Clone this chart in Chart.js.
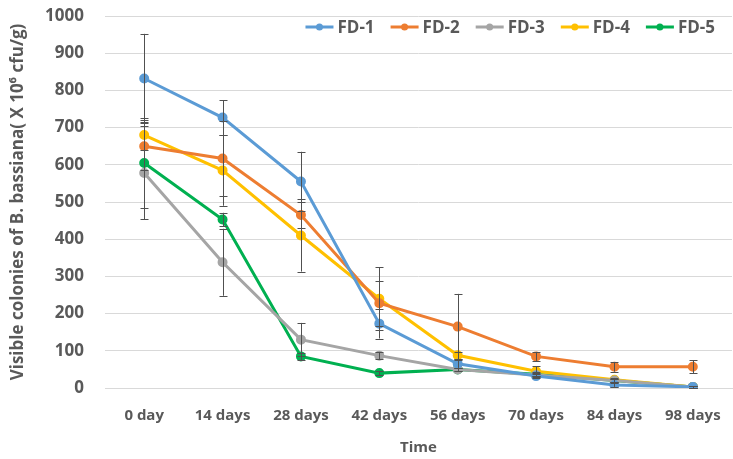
<!DOCTYPE html>
<html>
<head>
<meta charset="utf-8">
<script src="https://cdn.jsdelivr.net/npm/chart.js@4.4.0/dist/chart.umd.min.js"></script>
<style>
  html, body { margin: 0; padding: 0; background: #fff; }
  #wrap { width: 733px; height: 459px; }
</style>
</head>
<body>
<div id="wrap"><canvas id="chart"></canvas></div>
<script>
const days = ["0 day", "14 days", "28 days", "42 days", "56 days", "70 days", "84 days", "98 days"];
const yTicks = [0, 100, 200, 300, 400, 500, 600, 700, 800, 900, 1000];

const fd1 = [832, 727, 555, 173, 65, 32, 8, 3];
const fd2 = [650, 617, 465, 228, 165, 85, 57, 57];
const fd3 = [578, 338, 130, 87, 50, 35, 20, 3];
const fd4 = [680, 585, 410, 240, 88, 45, 22, 3];
const fd5 = [605, 453, 85, 40, 50, 37, 20, 3];

// standard deviations, same order as the means above
const fd1Err = [120, 47, 80, 40, 10, 5, 5, 2];
const fd2Err = [65, 100, 35, 60, 88, 12, 13, 17];
const fd3Err = [125, 90, 45, 10, 5, 5, 5, 2];
const fd4Err = [40, 95, 97, 85, 10, 14, 5, 2];
const fd5Err = [120, 18, 10, 5, 5, 5, 5, 2];

const seriesNames = ["FD-1", "FD-2", "FD-3", "FD-4", "FD-5"];
const seriesValues = [fd1, fd2, fd3, fd4, fd5];
const seriesErrors = [fd1Err, fd2Err, fd3Err, fd4Err, fd5Err];
const colors = ["#5B9BD5", "#ED7D31", "#A5A5A5", "#FFC000", "#00B050"];

const textColor = "#595959";
const fontFamily = "'Open Sans', 'DejaVu Sans', sans-serif";

// vertical error bars with caps
const errorBars = {
    id: "errorBars",
    afterDatasetsDraw(chart) {
        const ctx = chart.ctx;
        const y = chart.scales.y;
        ctx.save();
        ctx.strokeStyle = "#505050";
        ctx.lineWidth = 1;
        chart.data.datasets.forEach((ds, i) => {
            const meta = chart.getDatasetMeta(i);
            meta.data.forEach((pt, j) => {
                const err = ds.errors[j];
                if (!err) return;
                const top = y.getPixelForValue(ds.data[j] + err);
                const bot = y.getPixelForValue(Math.max(0, ds.data[j] - err));
                const x = Math.round(pt.x) + 0.5;
                ctx.beginPath();
                ctx.moveTo(x, top);
                ctx.lineTo(x, bot);
                ctx.moveTo(x - 4, Math.round(top) + 0.5);
                ctx.lineTo(x + 4, Math.round(top) + 0.5);
                ctx.moveTo(x - 4, Math.round(bot) + 0.5);
                ctx.lineTo(x + 4, Math.round(bot) + 0.5);
                ctx.stroke();
            });
        });
        ctx.restore();
    }
};

// one-row legend sitting inside the top right of the plot
const insideLegend = {
    id: "insideLegend",
    afterDraw(chart) {
        const ctx = chart.ctx;
        const area = chart.chartArea;
        const swatch = 28, gap = 4, spacing = 16;
        ctx.save();
        ctx.font = "bold 17px " + fontFamily;
        ctx.textBaseline = "middle";
        const widths = chart.data.datasets.map(ds => swatch + gap + ctx.measureText(ds.label).width);
        const total = widths.reduce((a, b) => a + b, 0) + spacing * (widths.length - 1);
        let x = area.right - 17 - total;
        const cy = area.top + 11;
        chart.data.datasets.forEach((ds, i) => {
            ctx.strokeStyle = ds.borderColor;
            ctx.lineWidth = 3;
            ctx.beginPath();
            ctx.moveTo(x, cy);
            ctx.lineTo(x + swatch, cy);
            ctx.stroke();
            ctx.fillStyle = ds.borderColor;
            ctx.beginPath();
            ctx.arc(x + swatch / 2, cy, 3.5, 0, Math.PI * 2);
            ctx.fill();
            ctx.fillStyle = textColor;
            ctx.fillText(ds.label, x + swatch + gap, cy + 1);
            x += widths[i] + spacing;
        });
        ctx.restore();
    }
};

const datasets = seriesNames.map((name, i) => ({
    label: name,
    data: seriesValues[i],
    errors: seriesErrors[i],
    borderColor: colors[i],
    backgroundColor: colors[i],
    borderWidth: 3,
    pointRadius: 3.5,
    pointHoverRadius: 3.5,
    tension: 0
}));

new Chart(document.getElementById("chart"), {
    type: "line",
    data: { labels: days, datasets: datasets },
    plugins: [errorBars, insideLegend],
    options: {
        responsive: true,
        maintainAspectRatio: false,
        animation: false,
        layout: { autoPadding: false, padding: { top: 16, right: 1, left: 0, bottom: 0 } },
        plugins: {
            legend: { display: false },
            tooltip: { enabled: false }
        },
        scales: {
            x: {
                offset: true,
                grid: { display: false, drawTicks: false },
                border: { color: "#D9D9D9" },
                afterFit(scale) {
                    scale.height = 71;
                    scale.paddingLeft = 0;
                    scale.paddingRight = 0;
                },
                ticks: {
                    color: textColor,
                    padding: 19,
                    maxRotation: 0,
                    autoSkip: false,
                    font: { family: fontFamily, size: 15, weight: "bold" }
                },
                title: {
                    display: true,
                    text: "Time",
                    color: textColor,
                    padding: { top: 6, bottom: 2 },
                    font: { family: fontFamily, size: 15, weight: "bold" }
                }
            },
            y: {
                min: 0,
                max: 1000,
                afterBuildTicks(scale) {
                    scale.ticks = yTicks.map(v => ({ value: v }));
                },
                afterFit(scale) {
                    scale.width = 105;
                    // keep the wide label gap from pushing the plot down
                    scale.paddingTop = 0;
                    scale.paddingBottom = 0;
                },
                grid: { color: "#D9D9D9", drawTicks: false },
                border: { display: false },
                ticks: {
                    color: textColor,
                    padding: 21,
                    callback: v => String(v),
                    font: { family: fontFamily, size: 17, weight: "bold" }
                },
                title: {
                    display: true,
                    text: "Visible colonies of B. bassiana( X 10\u2076 cfu/g)",
                    color: textColor,
                    padding: { top: 8, bottom: 0 },
                    font: { family: fontFamily, size: 17, weight: "bold" }
                }
            }
        }
    }
});
</script>
</body>
</html>
